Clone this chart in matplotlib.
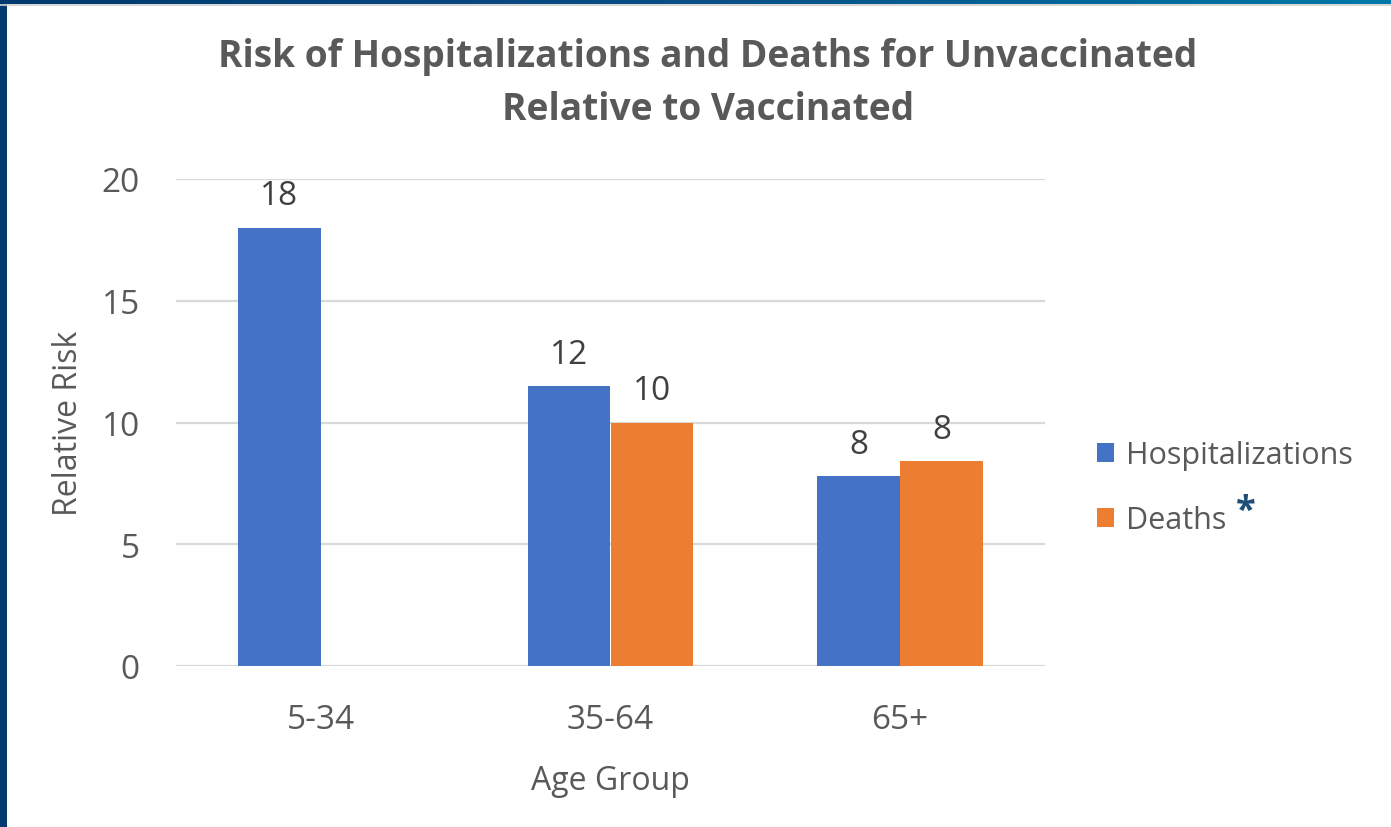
import numpy as np
import matplotlib
matplotlib.use("Agg")
import matplotlib.pyplot as plt
from matplotlib.colors import LinearSegmentedColormap

# данные с картинки
age_groups = ["5-34", "35-64", "65+"]
hospitalizations = [18.0, 11.5, 7.8]
deaths = [None, 10.0, 8.4]
y_ticks = [0, 5, 10, 15, 20]

plt.rcParams["font.family"] = ["Open Sans", "DejaVu Sans"]

text_gray = "#595959"
label_gray = "#404040"
grid_gray = "#d9d9d9"
blue = "#4472C4"
orange = "#ED7D31"

fig = plt.figure(figsize=(13.91, 8.28), dpi=100)
fig.patch.set_facecolor("white")

ax = fig.add_axes([176 / 1391, 161 / 828, (1045 - 176) / 1391, (667 - 180) / 828])

x = np.arange(len(age_groups))
w = 0.286

b1 = ax.bar(x - w / 2, hospitalizations, w, color=blue, label="Hospitalizations", zorder=3)
d_idx = [i for i, v in enumerate(deaths) if v is not None]
d_vals = [deaths[i] for i in d_idx]
b2 = ax.bar(x[d_idx] + w / 2, d_vals, w, color=orange, label="Deaths", zorder=3)

ax.bar_label(b1, fmt="{:.0f}", padding=11, fontsize=24, color=label_gray)
ax.bar_label(b2, fmt="{:.0f}", padding=11, fontsize=24, color=label_gray)

ax.set_xlim(-0.5, 2.5)
ax.set_ylim(0, 20)
ax.set_yticks(y_ticks)
ax.set_xticks(x)
ax.set_xticklabels(age_groups)
ax.tick_params(axis="both", length=0, labelsize=24, colors=text_gray)
ax.tick_params(axis="y", pad=26)
ax.tick_params(axis="x", pad=27)
ax.yaxis.grid(True, color=grid_gray, linewidth=1.6, zorder=0)
for s in ax.spines.values():
    s.set_visible(False)

ax.set_ylabel("Relative Risk", fontsize=23, color=text_gray, labelpad=12)
ax.set_xlabel("Age Group", fontsize=23, color=text_gray, labelpad=20)

fig.text(0.509, 1 - 57 / 828, "Risk of Hospitalizations and Deaths for Unvaccinated",
         ha="center", va="center", fontsize=26.7, fontweight="bold", color=text_gray)
fig.text(0.509, 1 - 110 / 828, "Relative to Vaccinated",
         ha="center", va="center", fontsize=26.7, fontweight="bold", color=text_gray)

leg = ax.legend(loc="center left", bbox_to_anchor=(1.028, 0.366), frameon=False,
                fontsize=22, labelcolor=text_gray, handlelength=0.55, handleheight=0.55,
                handletextpad=0.42, labelspacing=1.15)
fig.text(1236 / 1391, 1 - 512 / 828, "*", ha="left", va="center",
         fontsize=26, fontweight="bold", color="#1f4e79")

# рамка слайда
left_band = fig.add_axes([0, 0, 7 / 1391, 1])
left_band.set_facecolor("#003a70")
left_band.set_xticks([])
left_band.set_yticks([])
for s in left_band.spines.values():
    s.set_visible(False)

top_band = fig.add_axes([0, 1 - 5 / 828, 1, 5 / 828])
cmap = LinearSegmentedColormap.from_list("band", ["#003a70", "#0a4f86", "#0079a8"])
top_band.imshow(np.linspace(0, 1, 256)[None, :], aspect="auto", cmap=cmap)
top_band.axis("off")
fig.add_artist(plt.Line2D([0, 1], [1 - 6 / 828, 1 - 6 / 828], color="#cfcfcf", linewidth=1.2))

fig.savefig("out.png", dpi=100, facecolor="white")
